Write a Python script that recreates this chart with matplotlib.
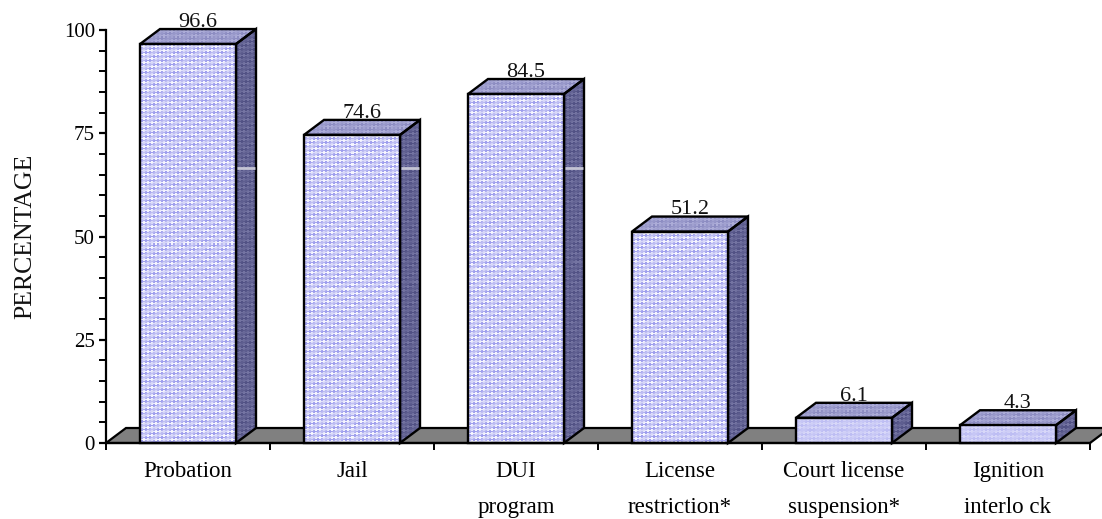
import matplotlib
matplotlib.use('Agg')
import matplotlib.pyplot as plt
from matplotlib.patches import Polygon
import numpy as np

plt.rcParams['font.family'] = ['Liberation Serif', 'DejaVu Serif']

categories = ['Probation', 'Jail', 'DUI\nprogram', 'License\nrestriction*',
              'Court license\nsuspension*', 'Ignition\ninterlo ck']
values = [96.6, 74.6, 84.5, 51.2, 6.1, 4.3]
value_labels = ['96.6', '74.6', '84.5', '51.2', '6.1', '4.3']
y_ticks = [0, 25, 50, 75, 100]

W, H = 1102, 519
LEFT, RIGHT, TOP, BOTTOM = 106, 1090, 30, 443
BAR_W = 96 / 164
DX = 20 / 164
DY = 15 / 4.13


def weave(w, h, low, high, contrast):
    # diagonal checks, like the dither in the original fill
    yy, xx = np.mgrid[0:h, 0:w]
    checks = (((xx - yy) // 4 + (xx + yy) // 4) % 2).astype(float)
    bands = 0.5 + 0.5 * np.sin(2 * np.pi * (xx + 1.6 * yy) / 15)
    mix = 0.5 + contrast * (checks - 0.5) * (0.25 + 0.75 * bands)
    low, high = np.array(low), np.array(high)
    return low + (high - low) * mix[..., None]


def textured(ax, pts, low, high, contrast, z):
    # polygon filled with the weave, black outline on top
    xs = [p[0] for p in pts]
    ys = [p[1] for p in pts]
    w = max(int((max(xs) - min(xs)) * 164), 1)
    h = max(int((max(ys) - min(ys)) * 4.13), 1)
    im = ax.imshow(weave(w, h, low, high, contrast),
                   extent=(min(xs), max(xs), min(ys), max(ys)), aspect='auto',
                   zorder=z, interpolation='nearest')
    patch = Polygon(pts, closed=True, facecolor='none', edgecolor='black', lw=1.7,
                    clip_on=False, zorder=z + 0.5)
    ax.add_patch(patch)
    im.set_clip_path(patch)
    im.set_clip_box(fig.bbox)


fig = plt.figure(figsize=(W / 100, H / 100), dpi=100)
ax = fig.add_axes([LEFT / W, 1 - BOTTOM / H, (RIGHT - LEFT) / W, (BOTTOM - TOP) / H])

n = len(categories)
ax.add_patch(Polygon([(0, 0), (DX, DY), (n + DX, DY), (n, 0)], closed=True,
                     facecolor='#808080', edgecolor='black', lw=1.6,
                     clip_on=False, zorder=1))

for i, v in enumerate(values):
    x0 = i + 0.5 - BAR_W / 2
    x1 = x0 + BAR_W
    side = [(x1, 0), (x1 + DX, DY), (x1 + DX, v + DY), (x1, v)]
    top = [(x0, v), (x0 + DX, v + DY), (x1 + DX, v + DY), (x1, v)]
    front = [(x0, 0), (x0, v), (x1, v), (x1, 0)]
    textured(ax, side, (0.32, 0.32, 0.52), (0.46, 0.46, 0.64), 1.0, 2)
    textured(ax, top, (0.55, 0.55, 0.76), (0.68, 0.68, 0.85), 1.0, 2)
    contrast = 1.0 if v > 10 else 0.3
    textured(ax, front, (0.62, 0.62, 0.93), (0.97, 0.97, 1.0), contrast, 3)

    # pale streak on the side of the tall bars
    if v > 60:
        ax.plot([x1 + 0.005, x1 + DX - 0.005], [66.5, 66.5], color='#c4c4d4', lw=2,
                zorder=4, solid_capstyle='butt')

    ax.annotate(value_labels[i], (i + 0.5 + DX / 2, v + DY), xytext=(0, 1.5),
                textcoords='offset points', ha='center', va='baseline',
                fontsize=16, color='#111111', annotation_clip=False, zorder=5)

ax.set_xlim(0, n)
ax.set_ylim(0, 100)

for s in ['top', 'right']:
    ax.spines[s].set_visible(False)
ax.spines['left'].set_linewidth(1.6)
ax.spines['bottom'].set_linewidth(1.6)
ax.spines['bottom'].set_zorder(6)

ax.set_yticks(y_ticks)
ax.set_yticks(np.arange(0, 101, 5), minor=True)
ax.tick_params(axis='y', which='major', length=5, width=1.6, labelsize=15, pad=3)
ax.tick_params(axis='y', which='minor', length=5, width=1.4)
ax.set_xticks(range(n + 1))
ax.set_xticklabels([])
ax.tick_params(axis='x', which='major', length=5, width=1.4)
ax.set_xticks(np.arange(n) + 0.5, categories, minor=True)
ax.tick_params(axis='x', which='minor', length=0, labelsize=16.5, pad=13)
for lab in ax.get_xticklabels(minor=True):
    lab.set_linespacing(1.95)
    lab.set_verticalalignment('top')

fig.text(25 / W, 1 - 236 / H, 'PERCENTAGE', rotation=90, ha='center', va='center',
         fontsize=18.5, color='#111111')

fig.savefig('out.png', dpi=100)
